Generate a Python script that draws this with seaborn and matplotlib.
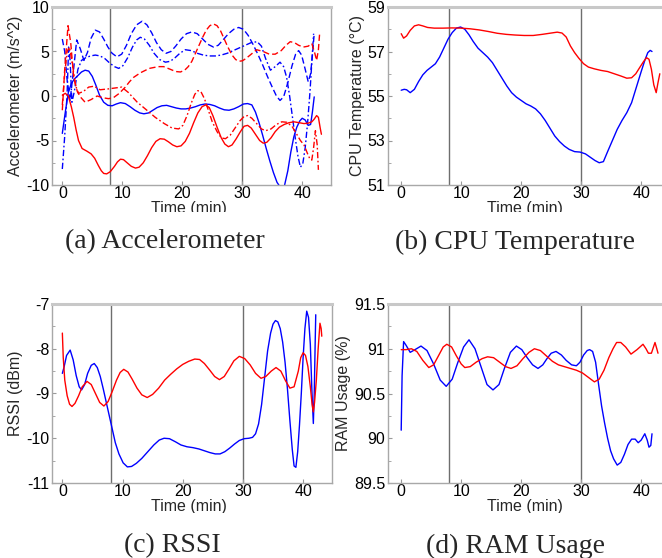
import matplotlib
matplotlib.use("Agg")
import matplotlib.pyplot as plt
from matplotlib.ticker import MultipleLocator
from matplotlib.patches import Rectangle
import seaborn as sns

sns.set_theme(style="white")
plt.rcParams["font.family"] = ["Liberation Sans", "DejaVu Sans"]
plt.rcParams["axes.unicode_minus"] = False

# ---------------------------------------------------------------- data
# time stamps (min) and readings for each trace

# (a) accelerometer, device 1 (blue) and device 2 (red): x / y / z axes
acc_b_x_t = [0, 0.5, 1, 1.5, 2, 2.6, 3.2, 3.8, 4.4, 5.0, 5.6, 6.2, 6.9, 7.6, 8.3, 9.0, 9.7, 10.5,
             11.3, 12.1, 12.9, 13.6, 14.4, 15.1, 15.8, 16.6, 17.4, 18.2, 19.0, 19.8, 20.6, 21.4,
             22.2, 23.0, 23.8, 24.6, 25.4, 26.2, 27.0, 27.8, 28.6, 29.4, 30.2, 30.9, 31.6, 32.2,
             32.8, 33.4, 34.0, 34.6, 35.2, 35.8, 36.4, 37.0, 37.6, 38.1, 38.6, 39.1, 39.6, 40.0,
             40.5, 41.0, 41.4, 41.7, 42.0]
acc_b_x_v = [-4.2, -1.8, 0.4, 1.4, 1.9, 2.3, 2.7, 2.9, 2.8, 2.2, 1.2, 0.1, -0.7, -1.05, -1.1,
             -0.9, -0.75, -0.85, -1.2, -1.6, -1.9, -2.0, -1.9, -1.6, -1.3, -1.1, -1.05, -1.2,
             -1.35, -1.45, -1.45, -1.35, -1.2, -1.0, -0.9, -0.95, -1.1, -1.35, -1.55, -1.6, -1.45,
             -1.2, -0.9, -0.85, -1.0, -1.8, -3.0, -4.4, -5.9, -7.3, -8.6, -9.7, -10.3, -10.2,
             -8.4, -6.3, -4.6, -3.5, -2.8, -2.5, -2.7, -3.3, -3.2, -1.8, -0.1]

acc_b_y_t = [0, 0.4, 0.8, 1.3, 1.8, 2.4, 3.0, 3.6, 4.2, 4.8, 5.5, 6.2, 6.9, 7.6, 8.3, 9.1, 9.9,
             10.7, 11.5, 12.4, 13.3, 14.1, 14.9, 15.7, 16.5, 17.3, 18.1, 18.9, 19.8, 20.7, 21.6,
             22.5, 23.4, 24.3, 25.2, 26.0, 26.8, 27.7, 28.6, 29.4, 30.2, 31.0, 31.8, 32.6, 33.4,
             34.2, 35.0, 35.7, 36.3, 36.9, 37.6, 38.3, 38.9, 39.4, 39.9, 40.5, 41.0, 41.4, 41.7,
             42.0]
acc_b_y_v = [6.4, 5.0, 1.8, -0.5, 2.5, 6.3, 5.3, 4.0, 4.9, 6.5, 7.4, 7.2, 6.4, 5.5, 4.8, 4.4,
             4.7, 5.7, 7.0, 8.0, 8.4, 8.0, 7.1, 6.0, 5.2, 4.8, 5.0, 5.6, 6.4, 7.0, 7.2, 7.0, 6.4,
             5.8, 5.5, 5.7, 6.3, 7.0, 7.5, 7.7, 7.5, 6.8, 5.8, 4.7, 3.5, 2.2, 1.0, 0.0, -0.5,
             -0.1, 1.5, 3.4, 4.7, 5.1, 4.6, 3.0, 1.6, 2.5, 4.6, 7.0]

acc_b_z_t = [0, 0.4, 0.8, 1.05, 1.3, 1.6, 2.0, 2.6, 3.2, 3.9, 4.7, 5.5, 6.3, 7.1, 7.9, 8.7, 9.4,
             10.1, 10.9, 11.7, 12.4, 13.0, 13.7, 14.5, 15.3, 16.2, 17.2, 18.0, 18.8, 19.6, 20.5,
             21.5, 22.5, 23.5, 24.5, 25.5, 26.5, 27.5, 28.5, 29.5, 30.5, 31.5, 32.5, 33.2, 33.9,
             34.7, 35.5, 36.3, 36.9, 37.4, 37.9, 38.4, 38.9, 39.3, 39.7, 40.1, 40.5, 40.9, 41.3,
             41.6, 41.9]
acc_b_z_v = [-8.2, -4.5, 0.3, 5.5, 4.0, -0.7, 0.5, 3.0, 4.0, 4.3, 4.5, 4.6, 4.5, 4.2, 3.7, 3.3,
             3.1, 3.4, 4.3, 5.5, 6.3, 6.6, 6.4, 5.7, 4.8, 4.1, 3.8, 3.9, 4.3, 4.8, 5.2, 5.1, 4.8,
             4.6, 4.5, 4.5, 4.6, 4.8, 5.1, 5.4, 5.7, 6.0, 6.1, 5.6, 4.2, 2.9, 3.3, 3.8, 3.3, 2.1,
             0.0, -2.5, -5.0, -6.8, -8.0, -7.6, -5.8, -3.0, 0.5, 3.8, 7.0]

acc_r_x_t = [0, 0.5, 1, 1.5, 1.9, 2.3, 2.7, 3.3, 4.1, 4.8, 5.4, 6.0, 6.5, 6.9, 7.4, 8.0, 8.7,
             9.2, 9.7, 10.2, 10.8, 11.5, 12.2, 12.8, 13.5, 14.2, 14.9, 15.6, 16.3, 17.0, 17.7,
             18.4, 19.1, 19.8, 20.5, 21.2, 21.9, 22.6, 23.3, 23.9, 24.5, 25.1, 25.8, 26.5, 27.1,
             27.7, 28.3, 29.0, 29.7, 30.3, 30.9, 31.5, 32.2, 32.9, 33.5, 34.1, 34.8, 35.5, 36.2,
             37.0, 37.8, 38.6, 39.5, 40.3, 41.0, 41.6, 42.0, 42.4, 42.7, 43.0, 43.2]
acc_r_x_v = [0.1, 0.3, 0.0, -1.2, -2.4, -3.8, -5.0, -5.9, -6.2, -6.5, -7.0, -7.8, -8.4, -8.7,
             -8.75, -8.5, -7.9, -7.4, -7.1, -7.15, -7.5, -7.9, -8.1, -8.0, -7.5, -6.7, -5.8, -5.1,
             -4.8, -4.85, -5.15, -5.5, -5.7, -5.6, -5.1, -4.2, -3.0, -1.9, -1.2, -1.0, -1.3,
             -2.2, -3.5, -4.7, -5.4, -5.7, -5.5, -4.8, -4.0, -3.4, -3.3, -3.6, -4.3, -5.0, -5.3,
             -5.2, -4.7, -4.0, -3.5, -3.2, -3.0, -2.9, -3.0, -3.1, -3.05, -2.9, -2.6, -2.2, -2.4,
             -3.6, -4.3]

acc_r_y_t = [0, 0.4, 0.95, 1.4, 1.9, 2.5, 3.0, 3.8, 4.8, 5.8, 6.8, 7.7, 8.5, 9.5, 10.5, 11.2,
             11.9, 13, 14.5, 16, 16.9, 18, 18.9, 19.7, 20.4, 21, 21.6, 22.2, 22.8, 23.4, 24, 24.6,
             25.2, 25.8, 26.4, 27.0, 27.6, 28.3, 28.9, 29.4, 30.0, 30.6, 31.5, 32.4, 33.5, 34.5,
             35.5, 36.5, 37.3, 38, 38.7, 39.4, 40.2, 41, 41.6, 42.1, 42.4, 42.7, 42.9]
acc_r_y_v = [-1.6, 3.0, 7.9, 6.0, 2.1, 0.5, -0.1, -0.7, -0.4, 0.0, -0.2, -0.3, -0.2, 0.3, 1.0,
             1.6, 2.1, 2.6, 3.1, 3.3, 3.3, 3.0, 2.75, 2.7, 2.9, 3.3, 3.9, 4.8, 5.7, 6.6, 7.4, 7.9,
             8.1, 7.9, 7.3, 6.4, 5.5, 4.6, 4.1, 3.9, 3.95, 4.2, 4.7, 5.2, 5.0, 4.7, 4.7, 5.1, 5.7,
             6.1, 6.0, 5.7, 5.5, 5.6, 5.9, 4.8, 4.0, 5.2, 7.0]

acc_r_z_t = [0, 0.4, 0.8, 1.2, 1.7, 2.2, 2.7, 3.5, 4.4, 5.3, 6.3, 7.7, 8.8, 9.9, 11, 12.5, 14.1,
             15.5, 17, 18.3, 19.4, 20.1, 20.8, 21.5, 22.1, 22.6, 23.1, 23.7, 24.3, 25.0, 25.8,
             26.5, 27.2, 28.0, 28.8, 29.6, 30.3, 30.9, 31.6, 32.4, 33.2, 33.9, 34.8, 35.7, 36.6,
             37.4, 38.3, 39.0, 39.7, 40.3, 40.9, 41.3, 41.6, 41.9, 42.2, 42.5, 42.7]
acc_r_z_v = [-1.0, 2.5, 5.0, 5.5, 3.5, 1.2, 0.3, 0.5, 1.0, 1.1, 0.7, 0.8, 0.9, 1.0, 0.4, -0.7,
             -1.6, -2.4, -3.1, -3.6, -3.7, -3.3, -2.2, -0.8, 0.2, 0.6, 0.5, -0.3, -1.5, -2.9,
             -4.0, -4.7, -4.8, -4.4, -3.6, -2.8, -2.3, -2.2, -2.5, -3.1, -3.7, -3.9, -3.7, -3.2,
             -2.9, -2.95, -3.4, -4.2, -5.0, -5.5, -6.5, -7.1, -7.2, -5.8, -3.9, -5.5, -8.3]

# (b) CPU temperature (degC)
cpu_b_t = [0, 0.5, 0.9, 1.5, 2.2, 2.9, 3.6, 4.3, 5.0, 5.7, 6.4, 7.1, 7.8, 8.5, 9.2, 9.9, 10.6,
           11.3, 12.0, 12.8, 13.6, 14.4, 15.2, 16.0, 16.8, 17.6, 18.4, 19.2, 20.0, 20.8, 21.6,
           22.4, 23.2, 24.0, 24.8, 25.6, 26.4, 27.2, 28.0, 28.9, 29.8, 30.7, 31.5, 32.3, 33.0,
           33.7, 34.4, 35.2, 36.0, 36.8, 37.6, 38.4, 39.2, 40.0, 40.6, 41.1, 41.5, 41.8]
cpu_b_v = [55.26, 55.3, 55.28, 55.15, 55.3, 55.65, 55.95, 56.15, 56.3, 56.45, 56.75, 57.15,
           57.55, 57.85, 58.05, 58.1, 58.0, 57.75, 57.45, 57.15, 56.95, 56.75, 56.5, 56.15, 55.8,
           55.45, 55.15, 54.95, 54.8, 54.65, 54.55, 54.42, 54.2, 53.9, 53.55, 53.2, 52.95, 52.75,
           52.6, 52.5, 52.48, 52.4, 52.25, 52.1, 52.0, 52.05, 52.5, 53.0, 53.5, 53.9, 54.25,
           54.7, 55.4, 56.1, 56.6, 56.95, 57.05, 57.0]
cpu_r_t = [0, 0.4, 0.9, 1.5, 2.2, 2.9, 3.6, 4.4, 5.5, 7, 8.5, 10, 11.5, 13, 14.5, 16, 17.5, 19,
           20.5, 22, 23.5, 25, 26, 26.8, 27.5, 28.2, 28.9, 29.6, 30.4, 31.2, 32.2, 33.3, 34.4,
           35.5, 36.6, 37.6, 38.4, 39.1, 39.8, 40.4, 40.9, 41.3, 41.7, 42.1, 42.5, 42.8, 43.1]
cpu_r_v = [57.8, 57.6, 57.7, 57.95, 58.15, 58.2, 58.15, 58.08, 58.05, 58.05, 58.06, 58.05,
           58.02, 57.97, 57.9, 57.82, 57.77, 57.74, 57.72, 57.72, 57.77, 57.83, 57.87, 57.83,
           57.65, 57.25, 56.95, 56.7, 56.45, 56.3, 56.22, 56.15, 56.1, 56.0, 55.9, 55.8, 55.82,
           56.0, 56.3, 56.55, 56.72, 56.65, 56.2, 55.5, 55.15, 55.6, 56.0]

# (c) RSSI (dBm)
rssi_b_t = [0, 0.3, 0.7, 1.3, 1.8, 2.3, 2.8, 3.2, 3.7, 4.2, 4.8, 5.3, 5.8, 6.3, 6.8, 7.3, 7.8,
            8.3, 8.8, 9.4, 10.1, 10.8, 11.5, 12.3, 13.2, 14.2, 15.2, 16.1, 16.9, 17.8, 18.8,
            19.7, 20.7, 21.7, 22.7, 23.6, 24.5, 25.4, 26.2, 27, 27.8, 28.6, 29.4, 30.2, 31, 31.6,
            32.1, 32.6, 33.1, 33.6, 34.1, 34.6, 35, 35.4, 35.8, 36.2, 36.6, 37, 37.4, 37.8, 38.2,
            38.5, 38.8, 39.1, 39.4, 39.7, 40, 40.3, 40.6, 40.9, 41.2, 41.45, 41.7, 41.85, 42,
            42.1]
rssi_b_v = [-8.55, -8.4, -8.15, -8.03, -8.25, -8.6, -8.85, -8.92, -8.8, -8.55, -8.37, -8.33,
            -8.42, -8.62, -8.9, -9.2, -9.5, -9.8, -10.1, -10.35, -10.55, -10.64, -10.63, -10.56,
            -10.45, -10.3, -10.15, -10.04, -10.0, -10.01, -10.08, -10.15, -10.19, -10.21,
            -10.24, -10.28, -10.32, -10.35, -10.35, -10.3, -10.22, -10.13, -10.05, -10.01,
            -10.0, -9.98, -9.9, -9.68, -9.25, -8.65, -8.05, -7.65, -7.45, -7.37, -7.4, -7.55,
            -7.85, -8.3, -8.9, -9.6, -10.25, -10.62, -10.65, -10.3, -9.7, -9.0, -8.2, -7.55,
            -7.16, -7.3, -7.9, -8.9, -9.67, -9.0, -7.9, -7.24]
rssi_r_t = [0, 0.15, 0.4, 0.8, 1.2, 1.6, 2.1, 2.7, 3.3, 4.1, 4.8, 5.5, 6.2, 6.9, 7.6, 8.3, 9.0,
            9.6, 10.2, 10.9, 11.6, 12.4, 13.2, 14.1, 15.0, 16.0, 17.0, 18.0, 19.0, 20.0, 21.0,
            22.0, 22.8, 23.6, 24.5, 25.3, 26.1, 26.9, 27.7, 28.5, 29.4, 30.3, 31.2, 32.1, 33.0,
            33.8, 34.7, 35.5, 36.3, 37.1, 37.8, 38.5, 39.2, 39.6, 40.0, 40.4, 40.8, 41.2, 41.5,
            41.7, 41.9, 42.2, 42.5, 42.8, 43.0, 43.1]
rssi_r_v = [-7.65, -8.2, -8.7, -9.05, -9.24, -9.29, -9.22, -9.05, -8.85, -8.73, -8.8, -9.0,
            -9.2, -9.28, -9.18, -8.95, -8.7, -8.53, -8.46, -8.52, -8.68, -8.88, -9.03, -9.09,
            -9.02, -8.88, -8.7, -8.57, -8.45, -8.35, -8.28, -8.23, -8.24, -8.33, -8.48, -8.62,
            -8.69, -8.62, -8.45, -8.27, -8.17, -8.22, -8.36, -8.55, -8.66, -8.62, -8.5, -8.42,
            -8.5, -8.72, -8.88, -8.85, -8.5, -8.2, -8.09, -8.15, -8.4, -8.85, -9.25, -9.41, -9.2,
            -8.7, -8.0, -7.43, -7.55, -7.72]

# (d) RAM usage (%)
ram_b_t = [0, 0.15, 0.4, 0.8, 1.5, 2.3, 3.3, 4.3, 5.4, 6.5, 7.5, 8.5, 9.4, 10.4, 11.3, 12.3,
           13.3, 14.3, 15.3, 16.3, 17.2, 18.2, 19.2, 20.1, 21, 21.9, 22.8, 23.6, 24.3, 25.0,
           25.8, 26.7, 27.5, 28.4, 29.2, 29.8, 30.4, 31.0, 31.4, 31.9, 32.4, 32.9, 33.4, 33.9,
           34.4, 34.9, 35.4, 36.0, 36.6, 37.2, 37.8, 38.4, 39.0, 39.5, 40.0, 40.6, 41.0, 41.3,
           41.6, 41.8]
ram_b_v = [90.09, 90.7, 91.08, 91.04, 90.96, 90.99, 91.03, 90.98, 90.83, 90.65, 90.58, 90.66,
           90.84, 91.02, 91.1, 91.0, 90.8, 90.6, 90.54, 90.6, 90.78, 90.96, 91.03, 90.99, 90.9,
           90.82, 90.78, 90.82, 90.89, 90.95, 90.97, 90.93, 90.87, 90.82, 90.81, 90.85, 90.93,
           90.98, 90.99, 90.97, 90.85, 90.6, 90.36, 90.17, 90.0, 89.86, 89.77, 89.7, 89.73,
           89.82, 89.93, 89.99, 89.99, 89.95, 89.98, 90.05, 89.98, 89.9, 89.92, 90.05]
ram_r_t = [0, 0.8, 1.7, 2.6, 3.6, 4.6, 5.4, 6.2, 7.0, 7.6, 8.4, 9.2, 10.0, 10.6, 11.5, 12.5,
           13.5, 14.4, 15.4, 16.4, 17.4, 18.3, 19.3, 20.3, 21.3, 22.2, 23.2, 24.2, 25.2, 26.2,
           27.2, 28.2, 29.2, 30.2, 31.2, 32.2, 33.0, 33.8, 34.6, 35.3, 35.9, 36.6, 37.4, 38.3,
           39.3, 40.3, 40.8, 41.2, 41.7, 42.3, 42.6, 42.8]
ram_r_v = [90.99, 90.99, 91.0, 90.97, 90.87, 90.79, 90.82, 90.92, 91.02, 91.05, 91.02, 90.92,
           90.83, 90.79, 90.8, 90.85, 90.89, 90.91, 90.9, 90.85, 90.8, 90.78, 90.81, 90.89,
           90.96, 91.0, 90.98, 90.92, 90.86, 90.82, 90.8, 90.78, 90.76, 90.73, 90.68, 90.63,
           90.66, 90.76, 90.9, 91.0, 91.07, 91.07, 91.02, 90.94, 90.99, 91.05, 91.0, 90.95,
           90.95, 91.07, 91.0, 90.95]

phase_marks = [8, 30]          # minutes where the scenario changes
x_ticks = [0, 10, 20, 30, 40]

acc_yticks = [10, 5, 0, -5, -10]
cpu_yticks = [59, 57, 55, 53, 51]
rssi_yticks = [-7, -8, -9, -10, -11]
ram_yticks = [91.5, 91, 90.5, 90, 89.5]
ram_ylabels = ["91.5", "91", "90.5", "90", "89.5"]

captions = ["(a) Accelerometer", "(b) CPU Temperature", "(c) RSSI", "(d) RAM Usage"]

# ---------------------------------------------------------------- figure
W, H = 662, 558
fig = plt.figure(figsize=(W / 100, H / 100), dpi=100)
fig.patch.set_facecolor("white")

BLUE = "#0000ff"
RED = "#ff0000"
DASHED = (0, (4.5, 2.2))
DASHDOT = (0, (4.5, 1.8, 1.2, 1.8))
FS = 11.5


def add_panel(left, top, right, bottom):
    return fig.add_axes([left / W, 1 - bottom / H, (right - left) / W, (bottom - top) / H])


def trace(ax, t, v, color, ls="-"):
    sns.lineplot(x=t, y=v, ax=ax, color=color, linestyle=ls, lw=1.0,
                 estimator=None, sort=False)


def dress(ax, xlim, ylim, yticks, yminor, ylabel, ylabels=None):
    ax.set_xlim(*xlim)
    ax.set_ylim(*ylim)
    for m in phase_marks:
        ax.axvline(m, color="#6e6e6e", lw=1.0, zorder=0)
    ax.set_xticks(x_ticks)
    ax.set_xticklabels([str(x) for x in x_ticks])
    ax.set_yticks(yticks)
    ax.set_yticklabels(ylabels if ylabels else [str(y) for y in yticks])
    ax.yaxis.set_minor_locator(MultipleLocator(yminor))
    ax.tick_params(which="both", direction="in", left=True, bottom=True,
                   colors="#9a9a9a", labelcolor="black", labelsize=FS, pad=2)
    ax.tick_params(which="major", length=3, width=0.8)
    ax.tick_params(which="minor", length=2, width=0.6)
    ax.tick_params(axis="x", pad=1)
    for side in ["left", "bottom", "right"]:
        ax.spines[side].set_color("#a8a8a8")
        ax.spines[side].set_linewidth(1.0)
    ax.spines["top"].set_color("#c8c8c8")
    ax.spines["top"].set_linewidth(2.2)
    ax.set_ylabel(ylabel, fontsize=FS, labelpad=2)
    ax.set_xlabel("Time (min)", fontsize=FS)
    ax.xaxis.set_label_coords(0.49, -0.092)
    ax.set_facecolor("white")


XL_LEFT = (-1.72, 44.8)
XL_RIGHT = (-2.2, 44.3)

# (a)
ax = add_panel(52, 7, 331, 185)
trace(ax, acc_b_x_t, acc_b_x_v, BLUE)
trace(ax, acc_b_y_t, acc_b_y_v, BLUE, DASHED)
trace(ax, acc_b_z_t, acc_b_z_v, BLUE, DASHDOT)
trace(ax, acc_r_x_t, acc_r_x_v, RED)
trace(ax, acc_r_y_t, acc_r_y_v, RED, DASHED)
trace(ax, acc_r_z_t, acc_r_z_v, RED, DASHDOT)
dress(ax, XL_LEFT, (-10, 10), acc_yticks, 2.5, "Accelerometer (m/s^2)")

# (b)
ax = add_panel(388, 7, 667, 185)
trace(ax, cpu_b_t, cpu_b_v, BLUE)
trace(ax, cpu_r_t, cpu_r_v, RED)
dress(ax, XL_RIGHT, (51, 59), cpu_yticks, 1, "CPU Temperature (\u00b0C)")

# (c)
ax = add_panel(52, 304, 332, 483)
trace(ax, rssi_b_t, rssi_b_v, BLUE)
trace(ax, rssi_r_t, rssi_r_v, RED)
dress(ax, XL_LEFT, (-11, -7), rssi_yticks, 0.5, "RSSI (dBm)")

# (d)
ax = add_panel(388, 304, 667, 483)
trace(ax, ram_b_t, ram_b_v, BLUE)
trace(ax, ram_r_t, ram_r_v, RED)
dress(ax, XL_RIGHT, (89.5, 91.5), ram_yticks, 0.25, "RAM Usage (%)", ram_ylabels)

# each sub-figure is trimmed just below its axis title
for y0, y1 in [(212.5, 226), (513, 528)]:
    fig.add_artist(Rectangle((0, 1 - y1 / H), 1, (y1 - y0) / H, transform=fig.transFigure,
                             facecolor="white", edgecolor="none", zorder=20))

# sub-figure captions
cap_font = dict(family=["Liberation Serif", "DejaVu Serif"], fontsize=20, ha="center",
                va="center", zorder=30)
for text, cx, cy in zip(captions, [165, 515, 172, 515], [242, 242, 546, 546]):
    fig.text(cx / W, 1 - cy / H, text, **cap_font)

fig.savefig("out.png", dpi=100, facecolor="white")
